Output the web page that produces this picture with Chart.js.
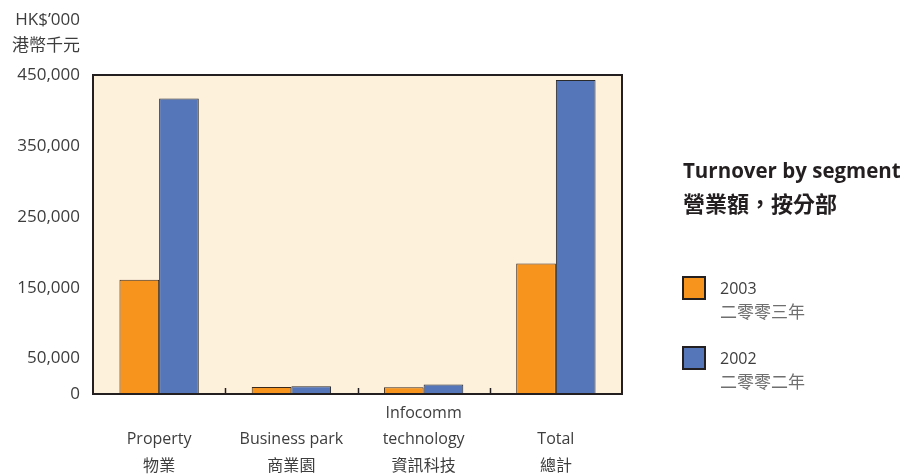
<!DOCTYPE html>
<html>
<head>
<meta charset="utf-8">
<script src="https://cdn.jsdelivr.net/npm/chart.js@4/dist/chart.umd.min.js"></script>
<style>
  body { margin: 0; background: #fff; }
  #wrap { width: 909px; height: 475px; }
</style>
</head>
<body>
<div id="wrap"><canvas id="chart" width="909" height="475"></canvas></div>
<script>
const categories = [
  ["", "Property", "物業"],
  ["", "Business park", "商業園"],
  ["Infocomm", "technology", "資訊科技"],
  ["", "Total", "總計"]
];
const values2003 = [161000, 10000, 9500, 184000];
const values2002 = [417000, 11000, 13500, 443000];
const yTicks = [0, 50000, 150000, 250000, 350000, 450000];
const unitLabels = ["HK$’000", "港幣千元"];
const legendTitle = ["Turnover by segment", "營業額，按分部"];
const seriesNames = [["2003", "二零零三年"], ["2002", "二零零二年"]];

const FONT = "'Open Sans', 'Noto Sans CJK TC', sans-serif";
const TEXT = "#3d3d3d";

// background, frame, category ticks, unit label and the side legend
const decor = {
  id: "decor",
  beforeDatasetsDraw(chart) {
    const { ctx, chartArea: a } = chart;
    ctx.save();
    ctx.fillStyle = "#fef1dc";
    ctx.fillRect(a.left, a.top, a.width, a.height);
    ctx.restore();
  },
  afterDatasetsDraw(chart) {
    const { ctx, chartArea: a } = chart;
    const x = chart.scales.x;
    ctx.save();
    ctx.strokeStyle = "#231f20";
    ctx.lineWidth = 1.5;
    for (let i = 1; i < categories.length; i++) {
      const px = Math.round((x.getPixelForTick(i - 1) + x.getPixelForTick(i)) / 2) + 0.5;
      ctx.beginPath();
      ctx.moveTo(px, a.bottom);
      ctx.lineTo(px, a.bottom - 6);
      ctx.stroke();
    }
    ctx.lineWidth = 2;
    ctx.strokeRect(a.left, a.top, a.width, a.height);
    ctx.restore();
  },
  afterDraw(chart) {
    const { ctx } = chart;
    ctx.save();
    ctx.fillStyle = TEXT;
    ctx.textAlign = "right";
    ctx.textBaseline = "middle";
    ctx.font = "17px " + FONT;
    ctx.fillText(unitLabels[0], 80, 20);
    ctx.fillText(unitLabels[1], 80, 46);

    const lx = 683;
    ctx.textAlign = "left";
    ctx.fillStyle = "#231f20";
    ctx.font = "bold 20.5px " + FONT;
    ctx.fillText(legendTitle[0], lx, 172);
    ctx.font = "bold 22px " + FONT;
    ctx.fillText(legendTitle[1], lx, 206);

    chart.data.datasets.forEach((ds, i) => {
      const y = 288 + i * 70;
      ctx.fillStyle = ds.backgroundColor;
      ctx.fillRect(lx, y - 11, 22, 22);
      ctx.strokeStyle = "#231f20";
      ctx.lineWidth = 2;
      ctx.strokeRect(lx, y - 11, 22, 22);
      ctx.fillStyle = TEXT;
      ctx.font = "16px " + FONT;
      ctx.fillText(seriesNames[i][0], 720, y + 1);
      ctx.fillStyle = "#6f6f6f";
      ctx.font = "17px " + FONT;
      ctx.fillText(seriesNames[i][1], 720, y + 25);
    });
    ctx.restore();
  }
};

new Chart(document.getElementById("chart"), {
  type: "bar",
  data: {
    labels: categories,
    datasets: [
      {
        label: seriesNames[0][0],
        data: values2003,
        backgroundColor: "#f7941d",
        borderColor: "#3b2a1c",
        borderWidth: 1
      },
      {
        label: seriesNames[1][0],
        data: values2002,
        backgroundColor: "#5576b9",
        borderColor: "#2a2a2a",
        borderWidth: 1
      }
    ]
  },
  options: {
    responsive: false,
    animation: false,
    layout: { padding: { left: 0, top: 75, right: 287, bottom: 0 } },
    datasets: {
      bar: { categoryPercentage: 0.6, barPercentage: 1.0, borderSkipped: false }
    },
    plugins: {
      legend: { display: false },
      tooltip: { enabled: false }
    },
    scales: {
      x: {
        grid: { display: false, drawTicks: false },
        border: { display: false },
        afterFit: (s) => { s.height = 81; },
        ticks: {
          maxRotation: 0,
          autoSkip: false,
          padding: 6,
          color: TEXT,
          font: { family: FONT, size: 16, lineHeight: 1.65 }
        }
      },
      y: {
        min: 0,
        max: 450000,
        grid: { display: false, drawTicks: false },
        border: { display: false },
        afterFit: (s) => { s.width = 93; },
        afterBuildTicks: (s) => { s.ticks = yTicks.map((v) => ({ value: v })); },
        ticks: {
          padding: 13,
          color: TEXT,
          font: { family: FONT, size: 17 },
          callback: (v) => v.toLocaleString("en-US")
        }
      }
    }
  },
  plugins: [decor]
});
</script>
</body>
</html>
